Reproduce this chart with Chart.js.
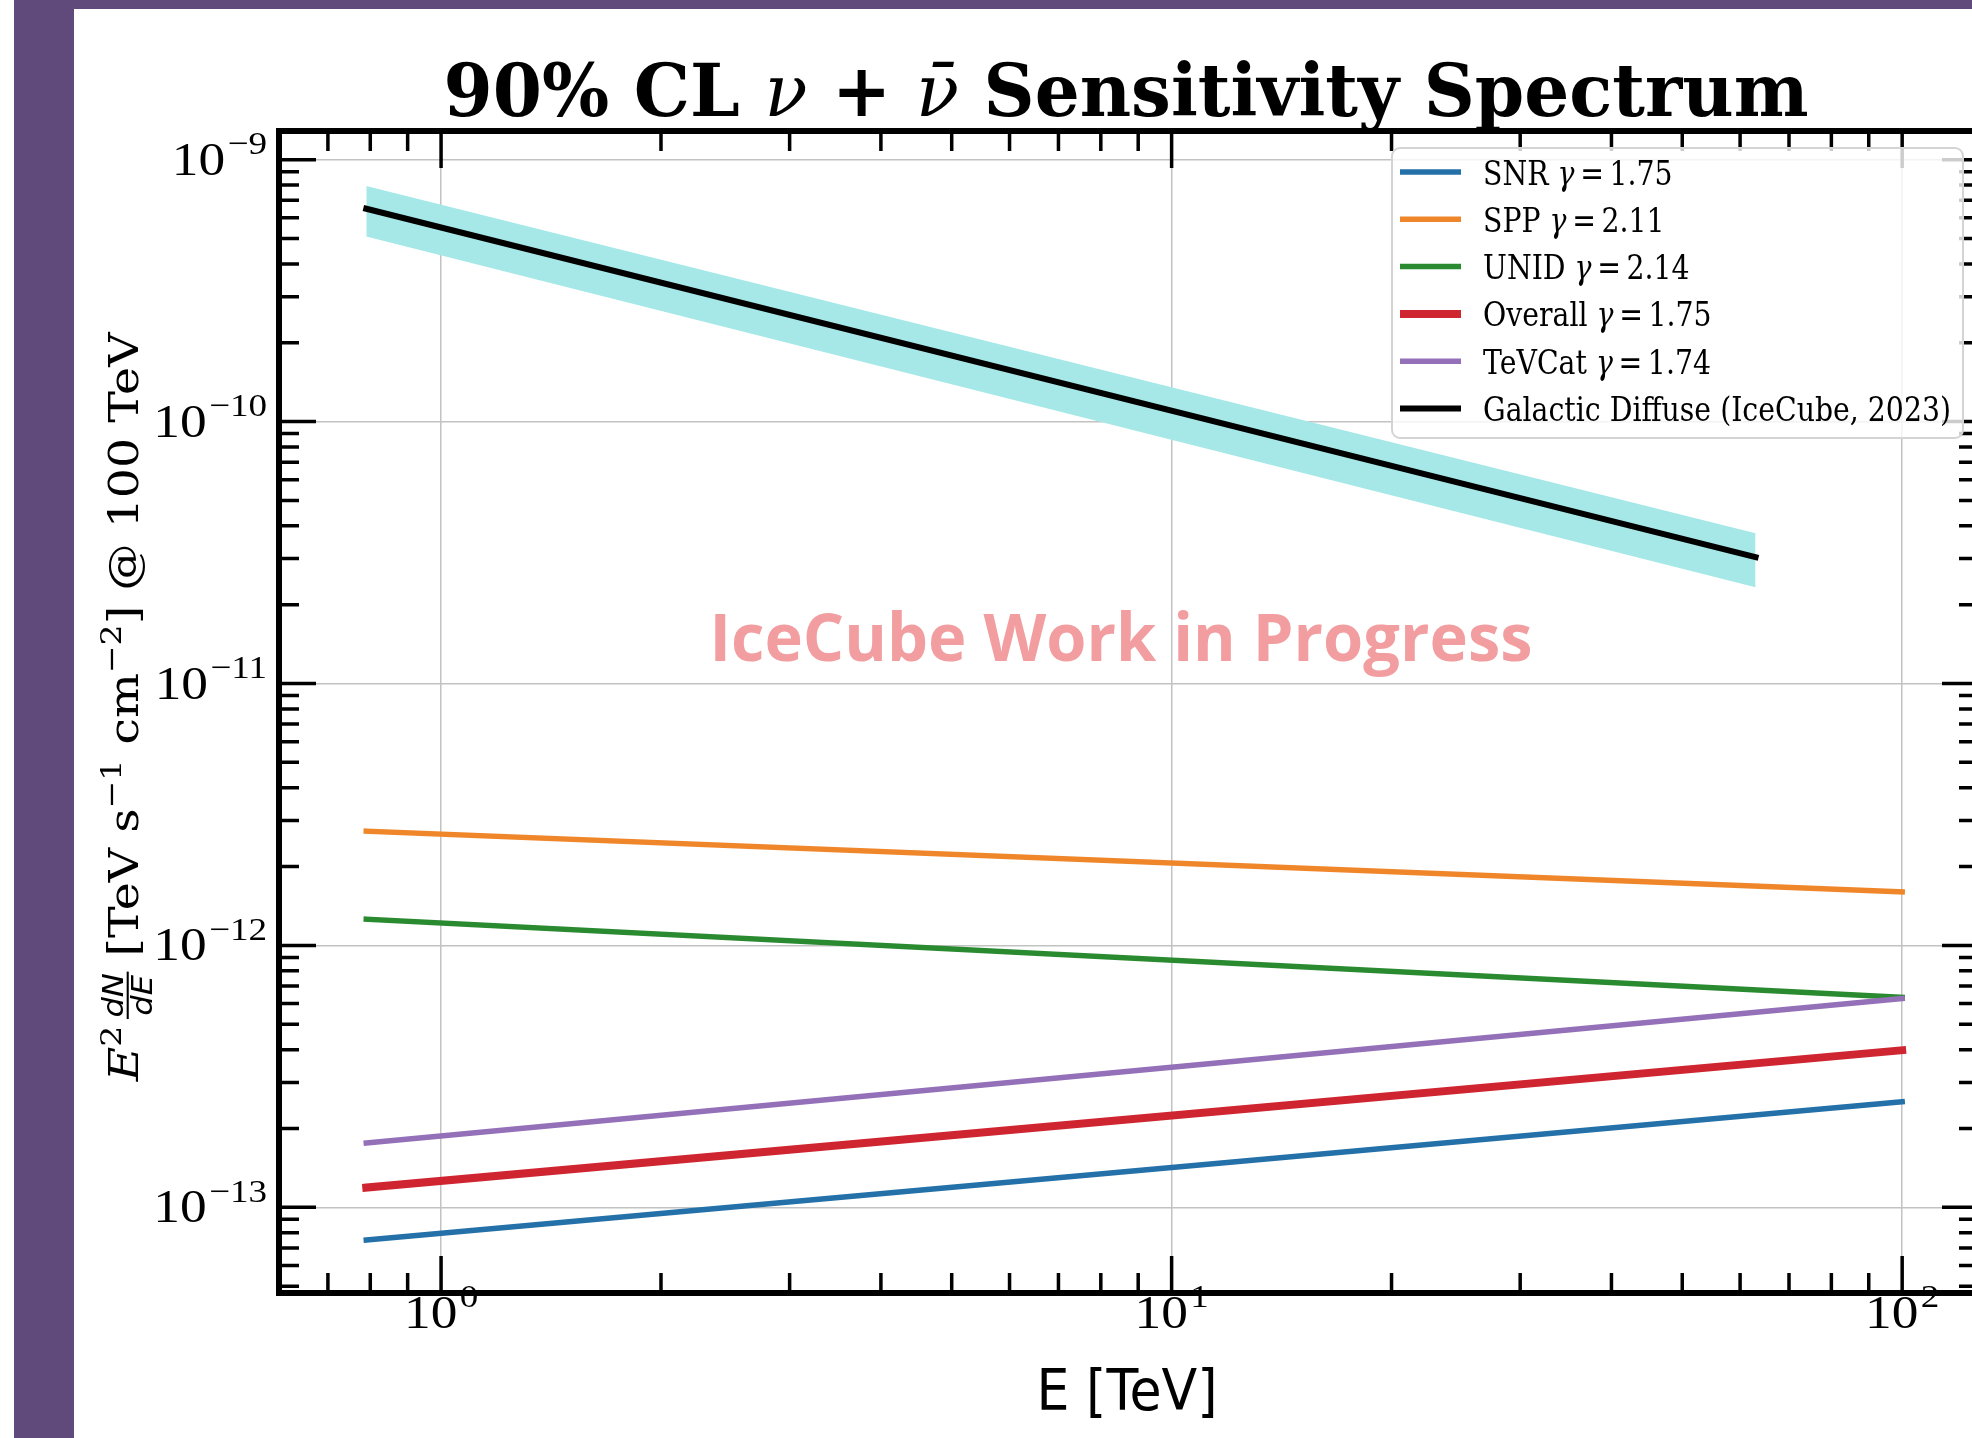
<!DOCTYPE html>
<html><head><meta charset="utf-8">
<script src="https://cdn.jsdelivr.net/npm/chart.js@4.4.1/dist/chart.umd.min.js"></script>
<style>
html,body{margin:0;padding:0;background:#fff;overflow:hidden;width:1972px;height:1438px;}
#wrap{position:absolute;left:0;top:0;width:1990px;height:1438px;}
.frame{position:absolute;background:#604a7b;z-index:5;}
</style></head><body>
<div id="wrap"><canvas id="c" width="1990" height="1438" style="width:1990px;height:1438px"></canvas></div>
<div class="frame" style="left:14px;top:0;width:1958px;height:9px"></div>
<div class="frame" style="left:14px;top:0;width:60px;height:1438px"></div>
<script>
// ---------------- data ----------------
const seriesNames = ['SNR', 'SPP', 'UNID', 'Overall', 'TeVCat', 'Galactic Diffuse (IceCube, 2023)'];
const gammaValues = ['1.75', '2.11', '2.14', '1.75', '1.74', null];
const energyTeV = [0.79, 100];
const diffuseEnergyTeV = [0.79, 63];
const snrFlux = [7.5e-14, 2.53e-13];
const sppFlux = [2.73e-12, 1.60e-12];
const unidFlux = [1.26e-12, 6.34e-13];
const overallFlux = [1.19e-13, 3.98e-13];
const tevcatFlux = [1.76e-13, 6.27e-13];
const diffuseFlux = [6.5e-10, 3.04e-11];
const diffuseUpper = [7.93e-10, 3.75e-11];
const diffuseLower = [5.09e-10, 2.33e-11];
const xMajorTicks = [1, 10, 100];
const xTickExponents = ['0', '1', '2'];
const yMajorTicks = [1e-13, 1e-12, 1e-11, 1e-10, 1e-9];
const yTickExponents = ['\u221213', '\u221212', '\u221211', '\u221210', '\u22129'];
const minorMultipliers = [2, 3, 4, 5, 6, 7, 8, 9];

// ---------------- styles ----------------
const colors = ['#2470a8', '#f0862a', '#2a8a30', '#cf2530', '#9470b9', '#000000'];
const widths = [5.5, 5.5, 5.5, 8, 5.5, 6];
const drawOrder = [6, 5, 4, 3, 2, 1];
const bandColor = '#a6e8e7';

const pts = (xs, ys) => xs.map((x, i) => ({x: x, y: ys[i]}));
const lineDs = (i, xs, ys) => ({
  label: seriesNames[i], data: pts(xs, ys), borderColor: colors[i], borderWidth: widths[i],
  pointRadius: 0, fill: false, tension: 0, borderCapStyle: 'square', order: drawOrder[i]
});

// ---------------- text helpers ----------------
function segW(ctx, s) {
  ctx.font = s.f;
  if (s.frac) return Math.max(ctx.measureText(s.num).width, ctx.measureText(s.den).width) + 2 * (s.pad || 0);
  return ctx.measureText(s.t).width;
}
function richW(ctx, segs) { return segs.reduce((a, s) => a + segW(ctx, s) + (s.gap || 0), 0); }
function drawRich(ctx, segs, x, y, o) {
  ctx.save();
  ctx.translate(x, y);
  if (o.rot) ctx.rotate(o.rot);
  ctx.scale(o.sAlong || 1, o.sPerp || 1);
  const W = richW(ctx, segs);
  let cx = o.align === 'center' ? -W / 2 : o.align === 'right' ? -W : 0;
  ctx.fillStyle = o.color || '#000';
  ctx.textBaseline = 'alphabetic';
  ctx.textAlign = 'left';
  for (const s of segs) {
    const w = segW(ctx, s);
    ctx.font = s.f;
    if (s.frac) {
      const nw = ctx.measureText(s.num).width, dw = ctx.measureText(s.den).width;
      ctx.fillText(s.num, cx + (w - nw) / 2, s.ndy);
      ctx.fillText(s.den, cx + (w - dw) / 2, s.ddy);
      ctx.fillRect(cx, s.bar - s.barW / 2, w, s.barW);
    } else {
      ctx.fillText(s.t, cx, s.dy || 0);
    }
    cx += w + (s.gap || 0);
  }
  ctx.restore();
}
function fitAlong(ctx, segs, target) { return target / richW(ctx, segs); }

// ---------------- decorations plugin ----------------
const deco = {
  id: 'deco',
  beforeDatasetsDraw(chart) {
    const ctx = chart.ctx;
    const wm = [{t: 'IceCube Work in Progress', f: 'bold 67px "Open Sans"'}];
    drawRich(ctx, wm, 1121, 661, {align: 'center', sAlong: fitAlong(ctx, wm, 823), color: '#f29ea0'});
  },
  afterDraw(chart) {
    const ctx = chart.ctx, ca = chart.chartArea, xs = chart.scales.x, ys = chart.scales.y;
    ctx.save();
    const MAJ = 37, MIN = 20;
    ctx.strokeStyle = '#000';
    ctx.lineWidth = 3.5;
    const xDecades = [xMajorTicks[0] / 10].concat(xMajorTicks);
    for (const d of xDecades) {
      for (const m of [1].concat(minorMultipliers)) {
        const v = m * d;
        if (v <= xs.min || v >= xs.max) continue;
        const p = xs.getPixelForValue(v);
        const L = m === 1 ? MAJ : MIN;
        ctx.beginPath();
        ctx.moveTo(p, ca.bottom); ctx.lineTo(p, ca.bottom - L);
        ctx.moveTo(p, ca.top); ctx.lineTo(p, ca.top + L);
        ctx.stroke();
      }
    }
    const yDecades = [yMajorTicks[0] / 10].concat(yMajorTicks);
    for (const d of yDecades) {
      for (const m of [1].concat(minorMultipliers)) {
        const v = m * d;
        if (v <= ys.min || v >= ys.max) continue;
        const p = ys.getPixelForValue(v);
        const L = m === 1 ? MAJ : MIN;
        ctx.beginPath();
        ctx.moveTo(ca.left, p); ctx.lineTo(ca.left + L, p);
        ctx.moveTo(ca.right, p); ctx.lineTo(ca.right - L, p);
        ctx.stroke();
      }
    }
    ctx.lineWidth = 6;
    ctx.strokeRect(ca.left, ca.top, ca.right - ca.left, ca.bottom - ca.top);
    ctx.restore();

    // tick labels
    const TF = 46, EF = 32;
    const tickSegs = (e) => [{t: '10', f: TF + 'px "Liberation Serif"', gap: 2}, {t: e, f: EF + 'px "Liberation Serif"', dy: -0.45 * TF}];
    yMajorTicks.forEach((v, i) => {
      drawRich(ctx, tickSegs(yTickExponents[i]), 267, ys.getPixelForValue(v) + 15, {align: 'right', sAlong: 1.16});
    });
    xMajorTicks.forEach((v, i) => {
      drawRich(ctx, tickSegs(xTickExponents[i]), xs.getPixelForValue(v), 1328, {align: 'center', sAlong: 1.16});
    });

    // x label
    const xl = [{t: 'E [TeV]', f: '57px "DejaVu Sans"'}];
    drawRich(ctx, xl, 1127, 1410, {align: 'center', sAlong: fitAlong(ctx, xl, 181)});

    // title
    const TT = 72;
    const title = [
      {t: '90% CL ', f: 'bold ' + TT + 'px "DejaVu Serif"'},
      {t: '\u03bd', f: 'italic ' + TT + 'px "DejaVu Serif"'},
      {t: ' + ', f: 'bold ' + TT + 'px "DejaVu Serif"'},
      {t: '\u03bd\u0304', f: 'italic ' + TT + 'px "DejaVu Serif"'},
      {t: ' Sensitivity Spectrum', f: 'bold ' + TT + 'px "DejaVu Serif"'}
    ];
    drawRich(ctx, title, 1126, 116, {align: 'center', sAlong: fitAlong(ctx, title, 1365)});

    // y label
    const ylSegs = (F) => [
      {t: 'E', f: 'italic ' + F + 'px "DejaVu Serif"'},
      {t: '2', f: (0.7 * F) + 'px "DejaVu Serif"', dy: -0.42 * F, gap: 0.14 * F},
      {frac: true, num: 'dN', den: 'dE', f: 'italic ' + (0.68 * F) + 'px "DejaVu Sans"', ndy: -0.36 * F, ddy: 0.33 * F, bar: -0.25 * F, barW: 0.05 * F, pad: 0.03 * F},
      {t: ' [TeV s', f: F + 'px "DejaVu Serif"'},
      {t: '\u22121', f: (0.7 * F) + 'px "DejaVu Serif"', dy: -0.42 * F},
      {t: ' cm', f: F + 'px "DejaVu Serif"'},
      {t: '\u22122', f: (0.7 * F) + 'px "DejaVu Serif"', dy: -0.42 * F},
      {t: '] @ 100 TeV', f: F + 'px "DejaVu Serif"'}
    ];
    const F0 = 40;
    const F = F0 * 749 / richW(ctx, ylSegs(F0));
    drawRich(ctx, ylSegs(F), 138, 707, {align: 'center', rot: -Math.PI / 2, sPerp: 30 / (0.729 * F)});

    // legend
    ctx.save();
    ctx.beginPath();
    ctx.roundRect(1392, 148, 1963 - 1392, 438 - 148, 8);
    ctx.fillStyle = 'rgba(255,255,255,0.8)';
    ctx.fill();
    ctx.strokeStyle = '#d4d4d4';
    ctx.lineWidth = 2;
    ctx.stroke();
    ctx.restore();
    const LF = 34;
    const TS = '\u2009';
    const legSegs = seriesNames.map((n, i) => gammaValues[i] === null
      ? [{t: n, f: LF + 'px "DejaVu Serif"'}]
      : [{t: n + ' ', f: LF + 'px "DejaVu Serif"'}, {t: '\u03b3', f: 'italic ' + LF + 'px "DejaVu Serif"'}, {t: TS + '=' + TS + gammaValues[i], f: LF + 'px "DejaVu Serif"'}]);
    const legScale = fitAlong(ctx, legSegs[5], 468);
    const rowY0 = 172, rowStep = 47.3;
    seriesNames.forEach((n, i) => {
      const y = rowY0 + i * rowStep;
      ctx.save();
      ctx.strokeStyle = colors[i];
      ctx.lineWidth = widths[i];
      ctx.beginPath(); ctx.moveTo(1400, y); ctx.lineTo(1461, y); ctx.stroke();
      ctx.restore();
      drawRich(ctx, legSegs[i], 1483, y + 12.5, {align: 'left', sAlong: legScale});
    });
  }
};

// ---------------- chart ----------------
new Chart(document.getElementById('c'), {
  type: 'line',
  data: {
    datasets: [
      {label: 'band lower', data: pts(diffuseEnergyTeV, diffuseLower), borderColor: 'rgba(0,0,0,0)', borderWidth: 1, pointRadius: 0, fill: false, tension: 0, order: 20},
      {label: 'band upper', data: pts(diffuseEnergyTeV, diffuseUpper), borderColor: 'rgba(0,0,0,0)', borderWidth: 1, pointRadius: 0, fill: '-1', backgroundColor: bandColor, tension: 0, order: 19},
      lineDs(0, energyTeV, snrFlux),
      lineDs(1, energyTeV, sppFlux),
      lineDs(2, energyTeV, unidFlux),
      lineDs(3, energyTeV, overallFlux),
      lineDs(4, energyTeV, tevcatFlux),
      lineDs(5, diffuseEnergyTeV, diffuseFlux)
    ]
  },
  options: {
    responsive: false,
    animation: false,
    events: [],
    layout: {autoPadding: false, padding: {left: 279, right: 11, top: 131, bottom: 145}},
    plugins: {legend: {display: false}, tooltip: {enabled: false}, title: {display: false}},
    scales: {
      x: {
        type: 'logarithmic', min: 0.6237, max: 127.4,
        grid: {color: '#c2c2c2', lineWidth: 1.5, drawTicks: false},
        border: {display: false}, ticks: {display: false},
        afterBuildTicks: (s) => { s.ticks = xMajorTicks.map(v => ({value: v})); }
      },
      y: {
        type: 'logarithmic', min: 4.71e-14, max: 1.287e-9,
        grid: {color: '#c2c2c2', lineWidth: 1.5, drawTicks: false},
        border: {display: false}, ticks: {display: false},
        afterBuildTicks: (s) => { s.ticks = yMajorTicks.map(v => ({value: v})); }
      }
    }
  },
  plugins: [deco]
});
</script>
</body></html>
